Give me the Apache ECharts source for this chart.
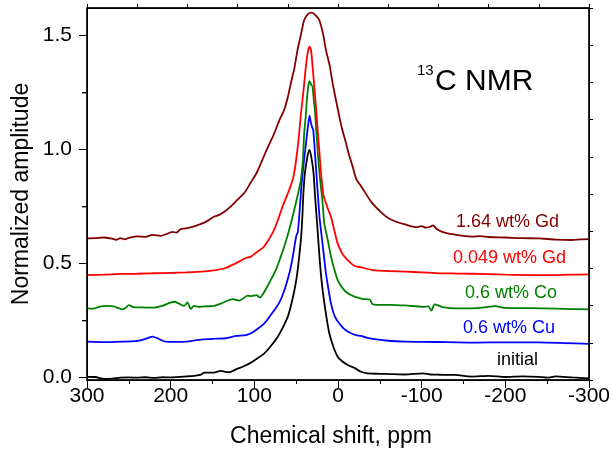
<!DOCTYPE html>
<html>
<head>
<meta charset="utf-8">
<script src="https://cdn.jsdelivr.net/npm/echarts@6/dist/echarts.min.js"></script>
<style>html,body{margin:0;padding:0;background:#fff}#c{width:612px;height:452px}</style>
</head>
<body>
<div id="c"></div>
<script>
// ---- data ----
const xTicks = [300, 200, 100, 0, -100, -200, -300];
const yTickLabels = [0, 0.5, 1.0, 1.5];
const yMinorTicks = [0.25, 0.75, 1.25];

const initialX = [300,290,280,270,260,250,240,230,220,210,200,190,180,170,163,160,150,140,135,130,120,114,104,98,88,80,72,66,60,56,52,49,46.4,44,42.4,41.5,39.6,37,34.4,32,29.2,27.5,24.4,21.5,18.4,14,10.4,5,0.4,-5,-11.6,-20,-27.6,-35.6,-50,-61.6,-80,-101.6,-110,-121.6,-140,-160,-180,-200,-220,-240,-250,-260,-280,-300];
const initialY = [0.004,0.003,-0.005,-0.004,0.000,0.001,0.000,0.002,-0.001,0.002,0.001,0.004,0.006,0.009,0.015,0.022,0.022,0.030,0.026,0.024,0.040,0.048,0.066,0.081,0.107,0.140,0.180,0.220,0.268,0.320,0.385,0.450,0.531,0.620,0.720,0.800,0.896,0.960,0.999,0.970,0.896,0.800,0.648,0.500,0.385,0.270,0.195,0.130,0.092,0.072,0.056,0.042,0.026,0.019,0.017,0.016,0.014,0.019,0.014,0.013,0.012,0.005,0.008,0.003,0.006,0.004,0.000,0.006,0.001,-0.003];

const cuX = [300,280,260,242,232,222,215,206,190,182,162,145,134,122,110,104,98,88,76,70,64,58,54,50,48,45.5,43.5,41,38.5,36,34,32.5,31,29.6,28,26.4,24,22,20.4,17,14.4,11,8.4,4,-1.6,-8,-15.6,-21.6,-27.6,-35,-45.6,-60,-81.6,-100,-130,-165.6,-200,-240,-270,-300];
const cuY = [0.158,0.156,0.158,0.160,0.168,0.180,0.172,0.158,0.157,0.158,0.168,0.171,0.173,0.183,0.187,0.195,0.209,0.238,0.297,0.330,0.385,0.460,0.531,0.620,0.640,0.750,0.850,0.940,1.020,1.100,1.149,1.120,1.100,1.086,1.010,0.925,0.800,0.700,0.648,0.540,0.458,0.380,0.326,0.270,0.238,0.212,0.195,0.187,0.183,0.175,0.168,0.162,0.158,0.157,0.156,0.154,0.155,0.155,0.152,0.148];

const coX = [300,292,285,276,268,262,258,254,250,245,236,222,210,196,190,184,180,176,172,166,160,149,140,126,118,108,104,97,94,90,80.4,74,68.4,63,58.4,54,50.4,47,44.4,42,40.4,38.5,37.2,35.5,34,32,30.4,29,27.6,24.4,22,20.4,18,16.4,12,8.4,4,0.4,-5,-11.6,-21.6,-30,-38,-41.6,-61.6,-80,-101.6,-108,-111.6,-115.6,-125,-141.6,-160,-175,-188,-200,-230,-260,-280,-300];
const coY = [0.304,0.303,0.312,0.315,0.313,0.305,0.300,0.306,0.318,0.310,0.308,0.307,0.315,0.333,0.325,0.315,0.330,0.302,0.315,0.310,0.313,0.314,0.325,0.345,0.338,0.360,0.358,0.362,0.352,0.365,0.428,0.475,0.531,0.590,0.648,0.710,0.765,0.820,0.867,0.950,1.072,1.150,1.218,1.280,1.301,1.285,1.276,1.220,1.174,0.999,0.890,0.838,0.750,0.677,0.600,0.531,0.470,0.428,0.395,0.370,0.353,0.345,0.343,0.322,0.319,0.317,0.311,0.313,0.294,0.322,0.310,0.304,0.304,0.308,0.314,0.306,0.305,0.303,0.301,0.300];

const gdLowX = [300,280,260,240,222,200,182,160,146,135,122,110,104,98,88.4,82,76.4,71,66.4,62,58.4,54,51.2,48.5,46.4,44.5,42.4,40.4,38.4,36,34,32,30.4,28.4,26.4,24.4,22.4,20.4,18.4,17.4,12,8.4,4,0.4,-5,-11.6,-20,-27.6,-41.6,-60,-81.6,-100,-121.6,-140,-160,-200,-240,-280,-300];
const gdLowY = [0.450,0.452,0.455,0.456,0.458,0.460,0.462,0.466,0.472,0.480,0.502,0.525,0.531,0.548,0.575,0.610,0.648,0.700,0.750,0.790,0.823,0.870,0.925,1.000,1.072,1.150,1.218,1.290,1.364,1.430,1.452,1.430,1.364,1.280,1.189,1.090,0.999,0.900,0.830,0.800,0.740,0.706,0.640,0.589,0.545,0.516,0.490,0.484,0.472,0.468,0.465,0.462,0.458,0.457,0.456,0.452,0.450,0.452,0.453];

const gdHighX = [300,290,280,270,265,260,255,250,240,230,222,212,205,198,193,188.4,182,172,162,155,148.4,142,135,128.4,118.4,112,104.4,97,90.4,84,76.4,70,64.4,60,56.4,52,48.4,44,40.4,36,31.2,27,22.4,18,14.4,10,6.4,2,-1.6,-5,-9.6,-13,-17.6,-22,-27.6,-40,-51.6,-60,-69.6,-80,-93.6,-100,-105,-110,-113.6,-118,-125.6,-141.6,-159.6,-170,-180,-200,-220,-240,-260,-279.6,-290,-300];
const gdHighY = [0.611,0.612,0.615,0.610,0.605,0.612,0.607,0.613,0.620,0.618,0.626,0.622,0.630,0.640,0.636,0.651,0.655,0.664,0.677,0.690,0.706,0.714,0.730,0.750,0.787,0.810,0.855,0.900,0.955,1.010,1.070,1.130,1.174,1.230,1.291,1.360,1.437,1.510,1.569,1.595,1.601,1.590,1.569,1.510,1.437,1.370,1.291,1.210,1.145,1.090,1.028,0.980,0.925,0.870,0.840,0.770,0.725,0.700,0.684,0.672,0.660,0.665,0.658,0.662,0.668,0.652,0.638,0.626,0.619,0.621,0.617,0.615,0.612,0.611,0.606,0.604,0.607,0.608];

const seriesNames = ['initial', '0.6 wt% Cu', '0.6 wt% Co', '0.049 wt% Gd', '1.64 wt% Gd'];
const seriesColors = ['#000000', '#0000ff', '#008000', '#ff0000', '#800000'];
const seriesX = [initialX, cuX, coX, gdLowX, gdHighX];
const seriesY = [initialY, cuY, coY, gdLowY, gdHighY];

const labelTexts = ['1.64 wt% Gd', '0.049 wt% Gd', '0.6 wt% Co', '0.6 wt% Cu', 'initial'];

const FONT = '"Liberation Sans", Arial, Helvetica, sans-serif';
const X_MIN = -300, X_MAX = 300;
const Y_MIN = -0.0101, Y_MAX = 1.6215;
const GRID = {left: 87, right: 23, top: 8, bottom: 72};

const chart = echarts.init(document.getElementById('c'), null, {renderer: 'canvas'});

const series = seriesNames.map((name, i) => ({
  name: name,
  type: 'line',
  data: seriesX[i].map((x, j) => [x, seriesY[i][j]]),
  showSymbol: false,
  symbol: 'none',
  smooth: 0.25,
  lineStyle: {color: seriesColors[i], width: 1.8}
}));

function line(show) {
  return {show: show, onZero: false, lineStyle: {color: '#000', width: 1}};
}
function tick(len, extra) {
  return Object.assign({show: true, inside: false, length: len, lineStyle: {color: '#000', width: 1}}, extra || {});
}

chart.setOption({
  animation: false,
  grid: Object.assign({outerBoundsMode: 'none', show: true, borderColor: '#000', borderWidth: 1}, GRID),
  xAxis: [
    {
      type: 'value', position: 'bottom', min: X_MIN, max: X_MAX, interval: 100, inverse: true,
      axisLine: line(true),
      axisTick: tick(8),
      minorTick: {show: true, splitNumber: 2, length: 4, lineStyle: {color: '#000', width: 1}},
      axisLabel: {show: true, color: '#000', fontSize: 21, fontFamily: FONT, margin: 6},
      splitLine: {show: false}, minorSplitLine: {show: false}
    },
    {
      type: 'value', position: 'top', min: 0, max: 10, interval: 1,
      axisLine: line(true), axisTick: tick(4),
      axisLabel: {show: false}, splitLine: {show: false}
    }
  ],
  yAxis: [
    {
      type: 'value', position: 'left', min: Y_MIN, max: Y_MAX,
      axisLine: line(true),
      axisTick: tick(8, {customValues: yTickLabels}),
      axisLabel: {show: true, color: '#000', fontSize: 21, fontFamily: FONT, margin: 15,
        customValues: yTickLabels, formatter: v => Number(v).toFixed(1)},
      splitLine: {show: false}
    },
    {
      type: 'value', position: 'left', min: Y_MIN, max: Y_MAX,
      axisLine: line(false),
      axisTick: tick(5, {customValues: yMinorTicks}),
      axisLabel: {show: false}, splitLine: {show: false}
    },
    {
      type: 'value', position: 'right', min: 0, max: 10, interval: 1,
      axisLine: line(true), axisTick: tick(4),
      axisLabel: {show: false}, splitLine: {show: false}
    }
  ],
  series: series
});

// frame and minor ticks located through the axes' own scales (fallback: grid box)
let p0 = chart.convertToPixel({xAxisIndex: 0, yAxisIndex: 0}, [X_MAX, Y_MAX]);
let p1 = chart.convertToPixel({xAxisIndex: 0, yAxisIndex: 0}, [X_MIN, Y_MIN]);
if (!p0 || !p1 || !isFinite(p0[0]) || !isFinite(p1[0])) {
  p0 = [GRID.left, GRID.top];
  p1 = [chart.getWidth() - GRID.right, chart.getHeight() - GRID.bottom];
}
const frameEl = {type: 'rect', zlevel: 1, z: 100, silent: true,
  shape: {x: p0[0], y: p0[1], width: p1[0] - p0[0], height: p1[1] - p0[1]},
  style: {fill: null, stroke: '#000', lineWidth: 1.3}};
const minorTickEls = yMinorTicks.map(v => {
  let py = chart.convertToPixel({yAxisIndex: 0}, v);
  if (!isFinite(py)) py = p0[1] + (Y_MAX - v) / (Y_MAX - Y_MIN) * (p1[1] - p0[1]);
  return {type: 'line', zlevel: 1, z: 100, silent: true,
    shape: {x1: p0[0] - 5, y1: py, x2: p0[0], y2: py}, style: {stroke: '#000', lineWidth: 1.3}};
});

const labelColors = ['#800000', '#ff0000', '#008000', '#0000ff', '#000000'];
const labelPos = [[456, 222], [453, 258.5], [465, 293], [463, 328], [497, 360]];
const graphics = labelTexts.map((t, i) => ({
  type: 'text', x: labelPos[i][0], y: labelPos[i][1], z: 10,
  style: {text: t, fill: labelColors[i], font: '18px ' + FONT, align: 'left', verticalAlign: 'middle'}
}));
graphics.push(
  {type: 'text', x: 417, y: 70.5, z: 10, style: {text: '13', fill: '#000', font: '15px ' + FONT, align: 'left', verticalAlign: 'middle'}},
  {type: 'text', x: 435, y: 81.5, z: 10, style: {text: 'C NMR', fill: '#000', font: '30px ' + FONT, align: 'left', verticalAlign: 'middle'}},
  {type: 'text', x: 331, y: 437, z: 10, style: {text: 'Chemical shift, ppm', fill: '#000', font: '23px ' + FONT, align: 'center', verticalAlign: 'middle'}},
  {type: 'text', x: 22, y: 194, rotation: Math.PI / 2, z: 10, style: {text: 'Normalized amplitude', fill: '#000', font: '23px ' + FONT, align: 'center', verticalAlign: 'middle'}},
  frameEl
);
chart.setOption({graphic: graphics.concat(minorTickEls)});
</script>
</body>
</html>
